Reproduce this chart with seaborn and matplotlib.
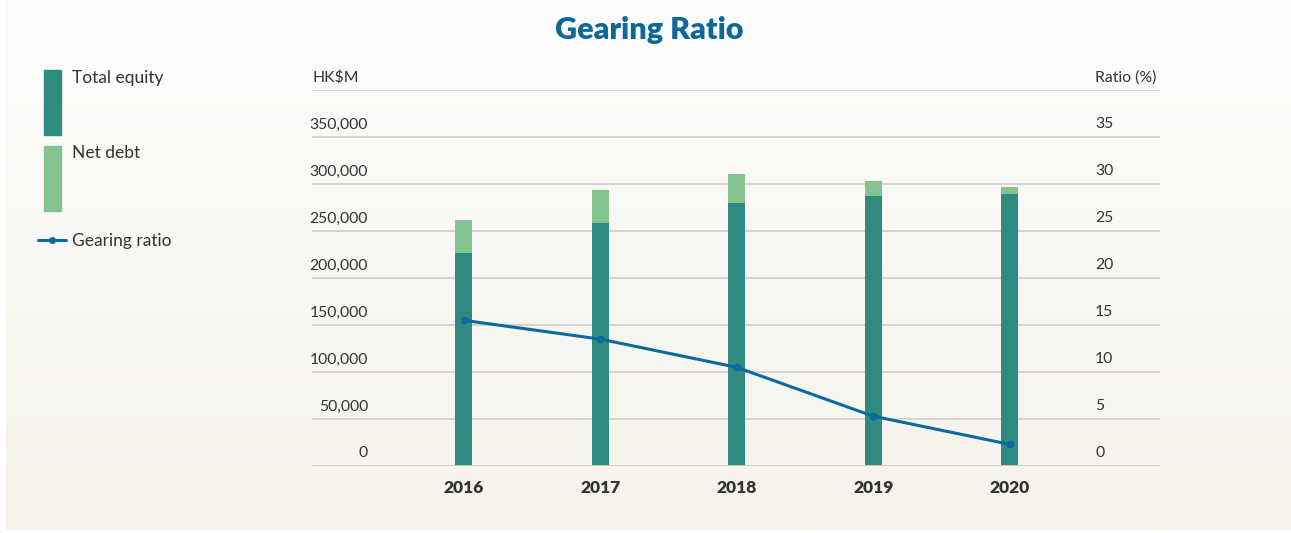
import numpy as np
import pandas as pd
import matplotlib
matplotlib.use("Agg")
import matplotlib.pyplot as plt
from matplotlib.patches import Rectangle
from matplotlib.lines import Line2D
import matplotlib.transforms as mtransforms
import seaborn as sns

# Figures in HK$ million
years = ["2016", "2017", "2018", "2019", "2020"]
total_equity = [226900, 258800, 280100, 287600, 289700]
net_debt = [35100, 35100, 30900, 15900, 7400]
gearing_ratio = [15.5, 13.5, 10.5, 5.3, 2.3]

left_ticks = [0, 50000, 100000, 150000, 200000, 250000, 300000, 350000]
right_ticks = [0, 5, 10, 15, 20, 25, 30, 35]

EQUITY = "#2f8b80"
DEBT = "#84c290"
LINE = "#0b6a9e"
TITLE = "#0d6897"
TEXT = "#333333"
GRID = "#d6d4d0"

sns.set_theme(style="white")
plt.rcParams["font.family"] = ["Lato", "DejaVu Sans"]

W, H = 1291, 533
fig = plt.figure(figsize=(W / 100, H / 100), dpi=100)
fig.patch.set_facecolor("white")

# soft warm gradient panel behind everything
bg = fig.add_axes([6 / W, 3 / H, 1 - 6 / W, 1 - 3 / H], zorder=-10)
grad = np.linspace(0, 1, 256)[:, None]
top = np.array([253, 253, 252]) / 255
bot = np.array([246, 243, 236]) / 255
img = top[None, None, :] * (1 - grad[..., None]) + bot[None, None, :] * grad[..., None]
bg.imshow(img, aspect="auto", extent=[0, 1, 0, 1], origin="upper")
bg.axis("off")

df = pd.DataFrame({
    "year": years,
    "equity": total_equity,
    "total": np.add(total_equity, net_debt),
    "ratio": gearing_ratio,
})

x0, x1 = 312, 1160
y_zero, y_top = 466, 90
ax = fig.add_axes([x0 / W, 1 - y_zero / H, (x1 - x0) / W, (y_zero - y_top) / H])
ax.patch.set_alpha(0)

# stacked bars: total (equity + net debt) behind, equity in front
sns.barplot(data=df, x="year", y="total", color=DEBT, width=0.125,
            saturation=1, linewidth=0, edgecolor="none", ax=ax, zorder=3)
sns.barplot(data=df, x="year", y="equity", color=EQUITY, width=0.125,
            saturation=1, linewidth=0, edgecolor="none", ax=ax, zorder=4)

ax.set_ylim(0, 400000)
for v in left_ticks[1:] + [400000]:
    ax.axhline(v, color=GRID, lw=1.4, zorder=1)
ax.axhline(0, color="#cfccc7", lw=2.0, zorder=5)

ax2 = ax.twinx()
ax2.patch.set_alpha(0)
sns.pointplot(data=df, x="year", y="ratio", color=LINE, markers="o",
              markersize=4, linewidth=2.2, ax=ax2, zorder=6)
ax2.set_ylim(0, 40)

for a in (ax, ax2):
    a.set_xlim(-1.11, 5.10)
    a.set_xlabel("")
    a.set_ylabel("")
    a.set_yticks([])
    for s in a.spines.values():
        s.set_visible(False)

ax.set_xticks(range(len(years)))
ax.set_xticklabels(years, fontsize=12.5, fontweight="heavy", color=TEXT)
ax.tick_params(axis="x", length=0, pad=10)
ax2.tick_params(axis="x", length=0)

lx = (368 - x0) / (x1 - x0)
rx = (1095 - x0) / (x1 - x0)
tr_l = mtransforms.blended_transform_factory(ax.transAxes, ax.transData)
tr_r = mtransforms.blended_transform_factory(ax2.transAxes, ax2.transData)
TICK_FS = 11.3
for v in left_ticks:
    ax.annotate(f"{v:,}", xy=(lx, v), xycoords=tr_l, xytext=(0, 4),
                textcoords="offset points", ha="right", va="bottom",
                fontsize=TICK_FS, color=TEXT)
ax.annotate("HK$M", xy=(0, 400000), xycoords=tr_l, xytext=(0, 4),
            textcoords="offset points", ha="left", va="bottom",
            fontsize=TICK_FS, color=TEXT)
for v in right_ticks:
    ax2.annotate(f"{v}", xy=(rx, v), xycoords=tr_r, xytext=(0, 4),
                 textcoords="offset points", ha="left", va="bottom",
                 fontsize=TICK_FS, color=TEXT)
ax2.annotate("Ratio (%)", xy=(rx, 40), xycoords=tr_r, xytext=(0, 4),
             textcoords="offset points", ha="left", va="bottom",
             fontsize=TICK_FS, color=TEXT)

fig.text(649 / W, 1 - 30 / H, "Gearing Ratio", ha="center", va="center",
         fontsize=22, fontweight="heavy", color=TITLE)

# legend on the left
def fy(py):
    return 1 - py / H

fig.patches.append(Rectangle((44 / W, fy(135)), 17 / W, 65 / H,
                             transform=fig.transFigure, color=EQUITY))
fig.patches.append(Rectangle((44 / W, fy(211)), 17 / W, 65 / H,
                             transform=fig.transFigure, color=DEBT))
fig.lines.append(Line2D([38 / W, 66 / W], [fy(240), fy(240)],
                        transform=fig.transFigure, color=LINE, lw=2.2))
fig.lines.append(Line2D([52 / W], [fy(240)], transform=fig.transFigure,
                        color=LINE, marker="o", markersize=4))
fig.text(72 / W, fy(78), "Total equity", ha="left", va="center",
         fontsize=12.5, color=TEXT)
fig.text(72 / W, fy(153), "Net debt", ha="left", va="center",
         fontsize=12.5, color=TEXT)
fig.text(72 / W, fy(241), "Gearing ratio", ha="left", va="center",
         fontsize=12.5, color=TEXT)

fig.savefig("out.png", dpi=100)
